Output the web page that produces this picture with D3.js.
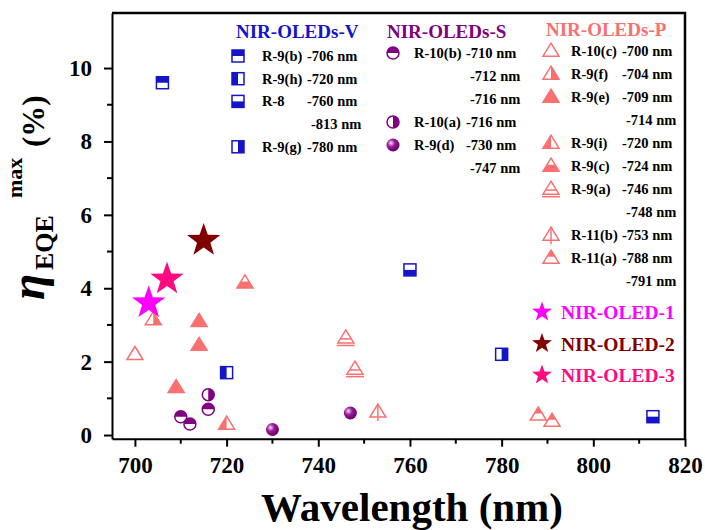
<!DOCTYPE html>
<html>
<head>
<meta charset="utf-8">
<script src="https://cdn.jsdelivr.net/npm/d3@7"></script>
<style>
  body { margin: 0; background: #fff; }
</style>
</head>
<body>
<svg></svg>
<script>
 // data
 let vDevices = ['R-9(b)', 'R-9(h)', 'R-8', 'R-9(g)'];
 let vWavelengths = [[706], [720], [760, 813], [780]];
 let vEqe = [[9.6], [1.7], [4.5, 0.5], [2.2]];
 let vShapes = ['sq-top', 'sq-left', 'sq-bottom', 'sq-right'];

 let sDevices = ['R-10(b)', 'R-10(a)', 'R-9(d)'];
 let sWavelengths = [[710, 712, 716], [716], [730, 747]];
 let sEqe = [[0.5, 0.3, 0.7], [1.1], [0.15, 0.6]];
 let sShapes = ['ci-top', 'ci-right', 'sphere'];

 let pDevices = ['R-10(c)', 'R-9(f)', 'R-9(e)', 'R-9(i)', 'R-9(c)', 'R-9(a)', 'R-11(b)', 'R-11(a)'];
 let pWavelengths = [[700], [704], [709, 714, 714], [720], [724], [746, 748], [753], [788, 791]];
 let pEqe = [[2.2], [3.15], [1.3, 3.1, 2.45], [0.3], [4.15], [2.65, 1.8], [0.63], [0.55, 0.38]];
 let pShapes = ['tr-open', 'tr-right', 'tr-full', 'tr-left', 'tr-bottom', 'tr-bar', 'tr-vline', 'tr-top'];

 let ourDevices = ['NIR-OLED-1', 'NIR-OLED-2', 'NIR-OLED-3'];
 let ourWavelengths = [703, 715, 707];
 let ourEqe = [3.6, 5.3, 4.25];

 let groupNames = ['NIR-OLEDs-V', 'NIR-OLEDs-S', 'NIR-OLEDs-P'];
 let xTicks = [700, 720, 740, 760, 780, 800, 820];
 let xMinor = [710, 730, 750, 770, 790, 810];
 let yTicks = [0, 2, 4, 6, 8, 10];
 let yMinor = [1, 3, 5, 7, 9];

 let blue = '#1414c8';
 let purple = '#800080';
 let salmon = '#fa7070';
 let starColors = ['#ff00ff', '#800000', '#ff0a80'];
 let serif = '"Liberation Serif", "Times New Roman", Times, "DejaVu Serif", serif';

 let width = 705;
 let height = 530;
 let padLeft = 112, padRight = 685, padTop = 13, padBottom = 438.7;

 let svg = d3.select('svg').attr('width', width).attr('height', height);

 let xScale = d3.scaleLinear().domain([695, 820]).range([padLeft, padRight]);
 let yScale = d3.scaleLinear().domain([-0.1, 11.5]).range([padBottom, padTop]);

 let defs = svg.append('defs');
 let grad = defs.append('radialGradient').attr('id', 'ball')
     .attr('cx', '35%').attr('cy', '35%').attr('r', '65%');
 grad.append('stop').attr('offset', '0%').attr('stop-color', '#f4d8f4');
 grad.append('stop').attr('offset', '45%').attr('stop-color', '#9a1a9a');
 grad.append('stop').attr('offset', '100%').attr('stop-color', '#6a006a');

 let starPath = (cx, cy, R) => {
  let pts = [];
  for (let i = 0; i < 10; i++) {
   let r = i % 2 === 0 ? R : R * 0.4;
   let a = -Math.PI / 2 + i * Math.PI / 5;
   pts.push([cx + r * Math.cos(a), cy + r * Math.sin(a)]);
  }
  return 'M' + pts.map(p => p.join(',')).join('L') + 'Z';
 }

 let drawMarker = (g, shape, color, cx, cy) => {
  if (shape.startsWith('sq')) {
   let s = 12;
   g.append('rect').attr('x', cx - s / 2).attr('y', cy - s / 2).attr('width', s).attr('height', s)
    .attr('fill', '#fff').attr('stroke', color).attr('stroke-width', 1.5);
   let part = {
    'sq-top': [cx - s / 2, cy - s / 2, s, s / 2],
    'sq-bottom': [cx - s / 2, cy, s, s / 2],
    'sq-left': [cx - s / 2, cy - s / 2, s / 2, s],
    'sq-right': [cx, cy - s / 2, s / 2, s]
   }[shape];
   g.append('rect').attr('x', part[0]).attr('y', part[1]).attr('width', part[2]).attr('height', part[3])
    .attr('fill', color);
  } else if (shape === 'sphere') {
   g.append('circle').attr('cx', cx).attr('cy', cy).attr('r', 6.5).attr('fill', 'url(#ball)');
  } else if (shape.startsWith('ci')) {
   let r = 6;
   g.append('circle').attr('cx', cx).attr('cy', cy).attr('r', r)
    .attr('fill', '#fff').attr('stroke', color).attr('stroke-width', 1.5);
   let d = shape === 'ci-top'
    ? `M${cx - r},${cy}A${r},${r} 0 0 1 ${cx + r},${cy}Z`
    : `M${cx},${cy - r}A${r},${r} 0 0 1 ${cx},${cy + r}Z`;
   g.append('path').attr('d', d).attr('fill', color);
  } else {
   let w = 16, h = 13;
   let ay = cy - h * 0.6, by = cy + h * 0.4, my = ay + h / 2;
   let tri = [[cx, ay], [cx + w / 2, by], [cx - w / 2, by]];
   g.append('polygon').attr('points', tri.join(' '))
    .attr('fill', shape === 'tr-full' ? color : '#fff')
    .attr('stroke', color).attr('stroke-width', 1.5).attr('stroke-linejoin', 'miter');
   let part = null;
   if (shape === 'tr-left') part = [[cx, ay], [cx, by], [cx - w / 2, by]];
   if (shape === 'tr-right') part = [[cx, ay], [cx + w / 2, by], [cx, by]];
   if (shape === 'tr-bottom') part = [[cx - w / 4, my], [cx + w / 4, my], [cx + w / 2, by], [cx - w / 2, by]];
   if (shape === 'tr-top') part = [[cx, ay], [cx + w / 4, my], [cx - w / 4, my]];
   if (part) g.append('polygon').attr('points', part.join(' ')).attr('fill', color);
   if (shape === 'tr-bar') {
    let ly = ay + h * 0.68;
    g.append('line').attr('x1', cx - w * 0.34).attr('x2', cx + w * 0.34).attr('y1', ly).attr('y2', ly)
     .attr('stroke', color).attr('stroke-width', 1.5);
    g.append('line').attr('x1', cx - w / 2 - 1).attr('x2', cx + w / 2 + 1).attr('y1', by + 2.5).attr('y2', by + 2.5)
     .attr('stroke', color).attr('stroke-width', 1.5);
   }
   if (shape === 'tr-vline') {
    g.append('line').attr('x1', cx).attr('x2', cx).attr('y1', ay).attr('y2', by + 4)
     .attr('stroke', color).attr('stroke-width', 1.5);
   }
  }
 }

 // axes
 let xAxis = d3.axisBottom(xScale).tickValues(xTicks).tickSize(8).tickSizeOuter(0);
 let gx = svg.append('g').attr('transform', `translate(0, ${padBottom})`).call(xAxis);
 gx.selectAll('text').attr('font-size', 23).attr('font-weight', 'bold').attr('fill', '#000').attr('dy', '1.0em');
 gx.select('.domain').attr('stroke-width', 2);
 gx.selectAll('.tick line').attr('stroke-width', 2);
 gx.selectAll('.minor').data(xMinor).enter().append('line')
   .attr('x1', d => xScale(d)).attr('x2', d => xScale(d)).attr('y1', 0).attr('y2', 5)
   .attr('stroke', '#000').attr('stroke-width', 2);

 let yAxis = d3.axisLeft(yScale).tickValues(yTicks).tickSize(8).tickSizeOuter(0);
 let gy = svg.append('g').attr('transform', `translate(${padLeft}, 0)`).call(yAxis);
 gy.selectAll('text').attr('font-size', 23).attr('font-weight', 'bold').attr('fill', '#000').attr('x', -20);
 gy.select('.domain').attr('stroke-width', 2);
 gy.selectAll('.tick line').attr('stroke-width', 2);
 gy.selectAll('.minor').data(yMinor).enter().append('line')
   .attr('y1', d => yScale(d)).attr('y2', d => yScale(d)).attr('x1', 0).attr('x2', -5)
   .attr('stroke', '#000').attr('stroke-width', 2);

 svg.append('path').attr('d', `M${padLeft},${padTop}H${padRight}V${padBottom}`)
   .attr('fill', 'none').attr('stroke', '#000').attr('stroke-width', 2.5);

 // axis titles
 svg.append('text').attr('x', 412).attr('y', 521).attr('text-anchor', 'middle')
   .attr('font-size', 41).attr('font-weight', 'bold').text('Wavelength (nm)');

 let yt = svg.append('g').attr('transform', 'translate(44, 0) rotate(-90)').attr('font-weight', 'bold');
 yt.append('text').attr('x', -300).attr('y', 0).attr('font-size', 48).attr('font-style', 'italic').text('η');
 yt.append('text').attr('x', -270).attr('y', 9).attr('font-size', 26).text('EQE');
 yt.append('text').attr('x', -198).attr('y', -22).attr('font-size', 22).text('max');
 yt.append('text').attr('x', -147).attr('y', 0).attr('font-size', 31).text('(%)');

 // data points
 let plot = svg.append('g');
 let drawGroup = (shapes, wls, eqes, color) => {
  shapes.forEach((shape, i) => {
   wls[i].forEach((wl, j) => {
    drawMarker(plot, shape, color, xScale(wl), yScale(eqes[i][j]));
   });
  });
 }
 drawGroup(pShapes, pWavelengths, pEqe, salmon);
 drawGroup(sShapes, sWavelengths, sEqe, purple);
 drawGroup(vShapes, vWavelengths, vEqe, blue);

 plot.selectAll('.star').data(ourDevices).enter().append('path')
   .attr('d', (d, i) => starPath(xScale(ourWavelengths[i]), yScale(ourEqe[i]), 17.5))
   .attr('fill', (d, i) => starColors[i]);

 // legends
 let drawLegend = (title, color, titleX, titleY, devices, wls, shapes, iconX, nameX, wlX, rowY, step) => {
  let lg = svg.append('g').attr('font-weight', 'bold');
  lg.append('text').attr('x', titleX).attr('y', titleY).attr('font-size', 19).attr('fill', color).text(title);
  let row = 0;
  devices.forEach((name, i) => {
   let y = rowY + row * step;
   drawMarker(lg, shapes[i], color, iconX, y);
   lg.append('text').attr('x', nameX).attr('y', y + 5).attr('font-size', 14.5).text(name);
   let uniq = Array.from(new Set(wls[i]));
   uniq.forEach((wl, k) => {
    lg.append('text').attr('x', wlX + (k > 0 ? 4 : 0)).attr('y', rowY + row * step + 5)
      .attr('font-size', 14.5).text(`-${wl} nm`);
    row++;
   });
  });
 }
 drawLegend(groupNames[0], blue, 236, 38, vDevices, vWavelengths, vShapes, 238, 262, 307, 56, 22.7);
 drawLegend(groupNames[1], purple, 387, 38, sDevices, sWavelengths, sShapes, 393, 414, 466, 53, 23);
 drawLegend(groupNames[2], salmon, 546, 36, pDevices, pWavelengths, pShapes, 551, 571, 622, 51, 23);

 let sl = svg.append('g').attr('font-weight', 'bold');
 ourDevices.forEach((name, i) => {
  let y = 312 + i * 31.5;
  sl.append('path').attr('d', starPath(542, y, 10.5)).attr('fill', starColors[i]);
  sl.append('text').attr('x', 561).attr('y', y + 7).attr('font-size', 19.5).attr('fill', starColors[i]).text(name);
 });

 svg.selectAll('text').attr('font-family', serif);
</script>
</body>
</html>
